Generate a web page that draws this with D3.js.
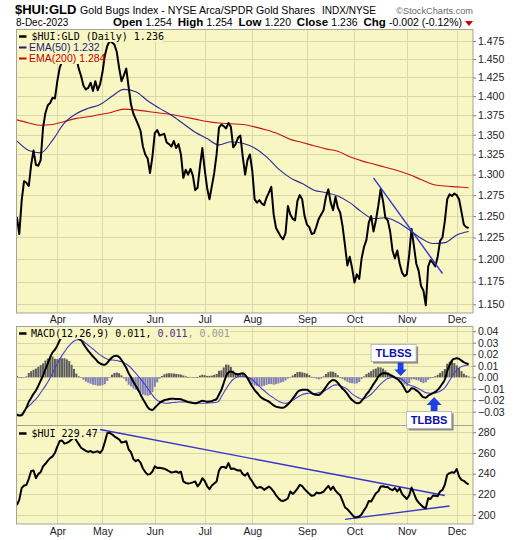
<!DOCTYPE html>
<html>
<head>
<meta charset="utf-8">
<script src="https://cdn.jsdelivr.net/npm/d3@7"></script>
<style>
  body { margin: 0; background: #ffffff; }
  svg { display: block; }
</style>
</head>
<body>
<svg id="chart" width="520" height="540"></svg>
<script>
// ---- data: one entry per trading session, 9-Mar-2023 .. 8-Dec-2023 ----
const monthLabels = ["Apr", "May", "Jun", "Jul", "Aug", "Sep", "Oct", "Nov", "Dec"];
const monthStart = [17, 36, 58, 79, 99, 122, 142, 164, 185]; // session index of each month's first day

const ratioClose = [
  1.249,1.229,1.268,1.292,1.290,1.286,1.312,1.330,1.312,1.311,
  1.318,1.359,1.378,1.388,1.391,1.398,1.397,1.420,1.438,1.447,
  1.460,1.455,1.466,1.462,1.470,1.452,1.437,1.427,1.414,1.409,
  1.411,1.418,1.407,1.420,1.408,1.416,1.432,1.455,1.468,1.475,
  1.473,1.470,1.460,1.438,1.420,1.428,1.437,1.412,1.389,1.377,
  1.370,1.363,1.355,1.335,1.325,1.320,1.302,1.322,1.352,1.356,
  1.349,1.350,1.351,1.340,1.338,1.335,1.342,1.333,1.338,1.325,
  1.296,1.306,1.300,1.307,1.299,1.281,1.284,1.310,1.333,1.306,
  1.284,1.270,1.286,1.302,1.325,1.359,1.363,1.361,1.358,1.365,
  1.360,1.334,1.338,1.346,1.349,1.322,1.300,1.318,1.325,1.305,
  1.270,1.266,1.269,1.265,1.263,1.272,1.278,1.285,1.252,1.236,
  1.231,1.226,1.223,1.230,1.262,1.252,1.247,1.245,1.268,1.275,
  1.270,1.250,1.240,1.237,1.229,1.230,1.238,1.247,1.252,1.257,
  1.273,1.282,1.266,1.257,1.273,1.260,1.254,1.238,1.216,1.193,
  1.203,1.190,1.174,1.183,1.178,1.201,1.214,1.222,1.242,1.250,
  1.232,1.245,1.262,1.282,1.268,1.248,1.245,1.232,1.210,1.201,
  1.210,1.195,1.185,1.181,1.183,1.205,1.235,1.215,1.195,1.187,
  1.170,1.165,1.149,1.192,1.199,1.196,1.192,1.203,1.221,1.225,
  1.244,1.270,1.276,1.274,1.277,1.275,1.270,1.255,1.240,1.237,
  1.236
];

// moving averages, sampled every 5 sessions
const emaStep = 5;
const ema50 = [
  1.342,1.330,1.327,1.343,1.365,1.377,1.384,1.389,1.400,1.409,
  1.406,1.394,1.384,1.375,1.364,1.353,1.345,1.337,1.341,1.339,
  1.333,1.322,1.307,1.296,1.289,1.281,1.278,1.274,1.266,1.255,
  1.247,1.248,1.243,1.234,1.224,1.218,1.219,1.228,1.232
];
const ema200 = [
  1.369,1.365,1.362,1.363,1.367,1.371,1.373,1.376,1.379,1.383,
  1.382,1.380,1.378,1.376,1.373,1.370,1.367,1.365,1.364,1.363,
  1.360,1.356,1.351,1.344,1.340,1.336,1.332,1.329,1.322,1.317,
  1.313,1.309,1.305,1.300,1.294,1.288,1.286,1.285,1.284
];

const macdLine = [
  -0.0323,-0.0332,-0.0330,-0.0300,-0.0265,-0.0215,-0.0180,-0.0145,-0.0115,-0.0075,
  -0.0030,0.0015,0.0070,0.0120,0.0175,0.0215,0.0240,0.0275,0.0320,0.0355,
  0.0385,0.0405,0.0415,0.0405,0.0385,0.0355,0.0335,0.0320,0.0290,0.0258,
  0.0230,0.0205,0.0180,0.0160,0.0135,0.0120,0.0110,0.0108,0.0125,0.0150,
  0.0172,0.0185,0.0186,0.0175,0.0150,0.0115,0.0080,0.0035,0.0000,-0.0040,
  -0.0075,-0.0110,-0.0150,-0.0190,-0.0225,-0.0260,-0.0280,-0.0285,-0.0265,-0.0245,
  -0.0225,-0.0210,-0.0200,-0.0195,-0.0190,-0.0188,-0.0188,-0.0189,-0.0190,-0.0192,
  -0.0200,-0.0208,-0.0215,-0.0220,-0.0224,-0.0227,-0.0222,-0.0212,-0.0205,-0.0208,
  -0.0214,-0.0212,-0.0208,-0.0200,-0.0190,-0.0150,-0.0110,-0.0050,0.0010,0.0040,
  0.0049,0.0040,0.0030,0.0026,0.0030,0.0035,0.0020,-0.0008,-0.0045,-0.0080,
  -0.0112,-0.0135,-0.0160,-0.0180,-0.0192,-0.0202,-0.0212,-0.0228,-0.0245,-0.0256,
  -0.0262,-0.0265,-0.0265,-0.0255,-0.0235,-0.0215,-0.0185,-0.0160,-0.0130,-0.0115,
  -0.0110,-0.0108,-0.0110,-0.0122,-0.0138,-0.0148,-0.0153,-0.0154,-0.0140,-0.0115,
  -0.0085,-0.0055,-0.0035,-0.0025,-0.0030,-0.0050,-0.0075,-0.0100,-0.0120,-0.0145,
  -0.0175,-0.0198,-0.0215,-0.0226,-0.0225,-0.0205,-0.0180,-0.0150,-0.0125,-0.0095,
  -0.0060,-0.0030,0.0005,0.0025,0.0035,0.0035,0.0030,0.0020,0.0010,-0.0003,
  -0.0015,-0.0035,-0.0060,-0.0095,-0.0130,-0.0120,-0.0095,-0.0100,-0.0115,-0.0130,
  -0.0155,-0.0175,-0.0178,-0.0160,-0.0150,-0.0138,-0.0128,-0.0110,-0.0085,-0.0055,
  -0.0020,0.0055,0.0105,0.0145,0.0160,0.0165,0.0160,0.0145,0.0130,0.0120,
  0.0113
];

const signalLine = [
  -0.0334,-0.0333,-0.0322,-0.0298,-0.0272,-0.0252,-0.0232,-0.0210,-0.0190,-0.0165,
  -0.0135,-0.0105,-0.0075,-0.0042,-0.0005,0.0035,0.0080,0.0117,0.0155,0.0190,
  0.0220,0.0250,0.0275,0.0297,0.0313,0.0323,0.0327,0.0322,0.0312,0.0295,
  0.0278,0.0262,0.0245,0.0228,0.0210,0.0194,0.0180,0.0168,0.0158,0.0152,
  0.0150,0.0148,0.0145,0.0140,0.0134,0.0126,0.0115,0.0100,0.0080,0.0058,
  0.0035,0.0010,-0.0015,-0.0040,-0.0068,-0.0098,-0.0125,-0.0155,-0.0182,-0.0200,
  -0.0212,-0.0220,-0.0225,-0.0227,-0.0225,-0.0222,-0.0220,-0.0218,-0.0216,-0.0215,
  -0.0215,-0.0216,-0.0217,-0.0218,-0.0220,-0.0222,-0.0224,-0.0226,-0.0227,-0.0226,
  -0.0225,-0.0224,-0.0222,-0.0220,-0.0218,-0.0205,-0.0170,-0.0135,-0.0100,-0.0068,
  -0.0040,-0.0018,-0.0005,0.0004,0.0006,0.0006,0.0005,0.0000,-0.0008,-0.0020,
  -0.0040,-0.0060,-0.0080,-0.0100,-0.0118,-0.0135,-0.0152,-0.0168,-0.0180,-0.0195,
  -0.0208,-0.0218,-0.0225,-0.0227,-0.0222,-0.0212,-0.0200,-0.0188,-0.0175,-0.0162,
  -0.0152,-0.0145,-0.0141,-0.0140,-0.0141,-0.0142,-0.0140,-0.0135,-0.0128,-0.0122,
  -0.0112,-0.0098,-0.0085,-0.0073,-0.0067,-0.0068,-0.0075,-0.0083,-0.0092,-0.0105,
  -0.0125,-0.0145,-0.0160,-0.0172,-0.0183,-0.0189,-0.0187,-0.0178,-0.0165,-0.0148,
  -0.0128,-0.0105,-0.0082,-0.0060,-0.0040,-0.0024,-0.0012,-0.0004,0.0000,0.0000,
  -0.0003,-0.0010,-0.0020,-0.0035,-0.0054,-0.0068,-0.0075,-0.0082,-0.0090,-0.0100,
  -0.0112,-0.0124,-0.0134,-0.0138,-0.0140,-0.0139,-0.0137,-0.0131,-0.0122,-0.0109,
  -0.0091,-0.0062,-0.0029,0.0006,0.0037,0.0062,0.0080,0.0092,0.0100,0.0104,
  0.0106
];

const huiClose = [
  209.7,214.6,226.0,228.5,229.0,235.0,242.5,243.0,235.6,239.5,
  241.5,247.0,249.5,252.5,255.0,256.7,260.0,266.0,271.5,272.0,
  269.0,269.7,271.0,272.9,276.0,272.0,268.5,265.0,263.5,262.0,
  261.0,261.8,260.5,261.0,261.6,260.0,263.0,270.5,279.0,279.4,
  278.0,276.0,274.6,273.0,270.0,270.5,271.3,263.5,260.5,254.0,
  252.0,253.4,250.5,245.0,241.5,239.0,239.5,242.0,247.0,245.5,
  245.6,245.2,244.8,243.7,242.3,241.0,241.5,242.1,240.8,241.8,
  232.4,231.0,230.5,230.8,231.5,232.4,227.6,230.5,235.5,233.0,
  228.0,225.0,228.5,230.5,232.4,243.0,246.5,246.5,245.4,250.2,
  244.5,245.0,244.0,243.0,243.3,239.5,238.0,240.5,235.6,232.4,
  228.5,226.0,227.0,226.5,224.3,226.0,227.5,225.5,222.7,219.0,
  216.2,214.0,213.6,214.5,216.2,222.7,220.4,222.5,225.5,229.2,
  228.0,225.0,222.7,220.4,218.5,219.0,221.7,221.0,221.5,222.7,
  225.5,228.2,224.3,227.5,223.5,221.0,219.0,213.5,207.5,205.6,
  203.0,200.3,197.8,197.8,198.5,200.7,204.5,208.0,213.5,213.0,
  217.0,221.0,222.7,227.5,227.8,227.0,227.0,225.0,224.0,226.0,
  222.7,226.0,220.5,217.8,215.5,219.0,226.5,221.0,215.0,212.0,
  209.7,207.5,206.5,216.2,215.5,218.8,218.5,218.1,222.7,224.3,
  229.2,238.9,240.5,241.3,240.8,244.4,237.2,234.0,233.0,231.0,
  229.47
];

// hand-drawn trend lines: [session index, value]
const ratioTrend = [[150, 1.296], [179, 1.184]];
const huiTrendHigh = [[35, 282.6], [180, 218.8]];
const huiTrendLow = [[138, 195.8], [182, 208.7]];

// axis ticks
const ratioTicks = [1.150,1.175,1.200,1.225,1.250,1.275,1.300,1.325,1.350,1.375,1.400,1.425,1.450,1.475];
const macdTicks = [-0.03,-0.02,-0.01,0.00,0.01,0.02,0.03,0.04];
const huiTicks = [200,220,240,260,280];

// ---- drawing ----
const SANS = "'Liberation Sans', Arial, sans-serif";
const MONO = "'DejaVu Sans Mono', monospace";
const BG = "#f8f6c2";
const GRID = "#d9d7ac";
const BORDER = "#a5a595";

const svg = d3.select("#chart");
const X0 = 16, X1 = 473;
const x = d3.scaleLinear().domain([0, 190]).range([16.9, 468.6]);

const boxes = {
  ratio: {top: 29.5, bottom: 313},
  macd: {top: 326.5, bottom: 425.5},
  hui: {top: 425.5, bottom: 524}
};
const yR = d3.scaleLog().domain([1.1406, 1.4911]).range([boxes.ratio.bottom, boxes.ratio.top]);
const yM = d3.scaleLinear().domain([-0.042, 0.0441]).range([boxes.macd.bottom, boxes.macd.top]);
const yH = d3.scaleLinear().domain([191.3, 286.5]).range([boxes.hui.bottom, boxes.hui.top]);

const defs = svg.append("defs");

function panel(id, box, y, ticks, fmt) {
  const g = svg.append("g");
  g.append("rect")
    .attr("x", X0).attr("y", box.top)
    .attr("width", X1 - X0).attr("height", box.bottom - box.top)
    .attr("fill", BG);
  g.selectAll(null).data(ticks).join("line")
    .attr("x1", X0).attr("x2", X1)
    .attr("y1", d => Math.round(y(d)) + 0.5).attr("y2", d => Math.round(y(d)) + 0.5)
    .attr("stroke", GRID).attr("stroke-width", 1);
  g.selectAll(null).data(monthStart).join("line")
    .attr("x1", d => Math.round(x(d)) + 0.5).attr("x2", d => Math.round(x(d)) + 0.5)
    .attr("y1", box.top).attr("y2", box.bottom)
    .attr("stroke", GRID).attr("stroke-width", 1);
  defs.append("clipPath").attr("id", "clip-" + id)
    .append("rect").attr("x", X0).attr("y", box.top)
    .attr("width", X1 - X0).attr("height", box.bottom - box.top);
  const plot = g.append("g").attr("clip-path", `url(#clip-${id})`);

  const axis = svg.append("g")
    .attr("transform", `translate(${X1},0)`)
    .call(d3.axisRight(y).tickValues(ticks).tickFormat(fmt).tickSize(3).tickPadding(2));
  axis.select(".domain").remove();
  axis.selectAll("line").attr("stroke", "#777");
  axis.selectAll("text").attr("font-family", SANS).attr("font-size", 10.5).attr("fill", "#222");
  return {g, plot};
}

function frame(box) {
  svg.append("rect")
    .attr("x", X0 + 0.5).attr("y", box.top)
    .attr("width", X1 - X0 - 0.5).attr("height", box.bottom - box.top)
    .attr("fill", "none").attr("stroke", BORDER).attr("stroke-width", 1);
}

function monthAxis(yPos, labelY) {
  const a = svg.append("g")
    .attr("transform", `translate(0,${yPos})`)
    .call(d3.axisBottom(x).tickValues(monthStart).tickFormat((d, i) => monthLabels[i]).tickSize(0));
  a.select(".domain").remove();
  a.selectAll("text")
    .attr("y", labelY).attr("dy", 0)
    .attr("font-family", SANS).attr("font-size", 10.5).attr("fill", "#222");
}

// legend row with an opaque backing so the series passes behind it
function legendRow(g, xPos, baseline, w, parts, font, size, swatch) {
  g.append("rect").attr("x", X0 + 1).attr("y", baseline - 9)
    .attr("width", w).attr("height", 11).attr("fill", BG);
  g.append("line").attr("x1", 19).attr("x2", 26.5)
    .attr("y1", baseline - 3.5).attr("y2", baseline - 3.5)
    .attr("stroke", swatch.color).attr("stroke-width", swatch.width);
  const t = g.append("text").attr("x", xPos).attr("y", baseline)
    .attr("font-family", font).attr("font-size", size)
    .attr("xml:space", "preserve");
  parts.forEach(p => t.append("tspan").attr("fill", p[1]).text(p[0]));
}

// --- price ratio panel ---
const ratioPanel = panel("ratio", boxes.ratio, yR, ratioTicks, d3.format(".3f"));
const emaLine = d3.line().x((d, i) => x(i * emaStep)).y(d => yR(d)).curve(d3.curveMonotoneX);
ratioPanel.plot.append("path").datum(ema200).attr("d", emaLine)
  .attr("fill", "none").attr("stroke", "#c81414").attr("stroke-width", 1.1);
ratioPanel.plot.append("path").datum(ema50).attr("d", emaLine)
  .attr("fill", "none").attr("stroke", "#2a2a9a").attr("stroke-width", 1.1);
ratioPanel.plot.append("path").datum(ratioClose)
  .attr("d", d3.line().x((d, i) => x(i)).y(d => yR(d)))
  .attr("fill", "none").attr("stroke", "#000").attr("stroke-width", 2).attr("stroke-linejoin", "round");
ratioPanel.plot.append("path").datum(ratioTrend)
  .attr("d", d3.line().x(d => x(d[0])).y(d => yR(d[1])))
  .attr("stroke", "#3535d0").attr("stroke-width", 1.4);
legendRow(ratioPanel.g, 31.5, 40, 146, [["$HUI:GLD (Daily) 1.236", "#000"]], MONO, 10, {color: "#000", width: 2.5});
legendRow(ratioPanel.g, 29, 51, 80, [["EMA(50) 1.232", "#1c1c7c"]], SANS, 10.5, {color: "#1c1c7c", width: 2});
legendRow(ratioPanel.g, 29, 62, 84, [["EMA(200) 1.284", "#c80000"]], SANS, 10.5, {color: "#c80000", width: 2});
frame(boxes.ratio);
monthAxis(boxes.ratio.bottom, 9.8);

// --- MACD panel ---
const macdPanel = panel("macd", boxes.macd, yM, macdTicks, d3.format(".2f"));
const hist = macdLine.map((m, i) => m - signalLine[i]);
macdPanel.plot.selectAll(null).data(hist).join("rect")
  .attr("x", (d, i) => x(i) - 1)
  .attr("width", 2)
  .attr("y", d => Math.min(yM(d), yM(0)))
  .attr("height", d => Math.max(0.6, Math.abs(yM(d) - yM(0))))
  .attr("fill", d => d >= 0 ? "#5c5c5c" : "#8080b4");
macdPanel.plot.append("path").datum(signalLine)
  .attr("d", d3.line().x((d, i) => x(i)).y(d => yM(d)).curve(d3.curveMonotoneX))
  .attr("fill", "none").attr("stroke", "#4a3fd0").attr("stroke-width", 1.1);
macdPanel.plot.append("path").datum(macdLine)
  .attr("d", d3.line().x((d, i) => x(i)).y(d => yM(d)).curve(d3.curveMonotoneX))
  .attr("fill", "none").attr("stroke", "#000").attr("stroke-width", 2).attr("stroke-linejoin", "round");
legendRow(macdPanel.g, 31, 337, 213,
  [["MACD(12,26,9) 0.011, ", "#000"], ["0.011", "#4b2c9c"], [", 0.001", "#9a9a9a"]],
  MONO, 10, {color: "#000", width: 2.5});
frame(boxes.macd);

// --- $HUI panel ---
const huiPanel = panel("hui", boxes.hui, yH, huiTicks, d3.format("d"));
const trend = d3.line().x(d => x(d[0])).y(d => yH(d[1]));
huiPanel.plot.append("path").datum(huiTrendHigh).attr("d", trend)
  .attr("stroke", "#3535d0").attr("stroke-width", 1.4);
huiPanel.plot.append("path").datum(huiTrendLow).attr("d", trend)
  .attr("stroke", "#3535d0").attr("stroke-width", 1.4);
huiPanel.plot.append("path").datum(huiClose)
  .attr("d", d3.line().x((d, i) => x(i)).y(d => yH(d)))
  .attr("fill", "none").attr("stroke", "#000").attr("stroke-width", 2).attr("stroke-linejoin", "round");
legendRow(huiPanel.g, 31.5, 437, 72, [["$HUI 229.47", "#000"]], MONO, 10, {color: "#000", width: 2.5});
frame(boxes.hui);
monthAxis(boxes.hui.bottom, 10.5);

// --- signal callouts on the MACD ---
function callout(label, idx, value, dir) {
  const tx = x(idx), ty = yM(value);
  const g = svg.append("g");
  const w = 45, h = 17;
  let bx, by, arrow;
  if (dir === "down") {
    bx = tx - 29.5; by = ty - 31.5;
    const s = by + h + 1;
    arrow = [[tx - 2.9, s], [tx + 2.9, s], [tx + 2.9, s + 7], [tx + 6.2, s + 7], [tx, s + 13.5], [tx - 6.2, s + 7], [tx - 2.9, s + 7]];
  } else {
    bx = tx - 27.5; by = ty + 14.5;
    const e = by - 0.5;
    arrow = [[tx, ty], [tx + 7.5, ty + 8], [tx + 3.4, ty + 8], [tx + 3.4, e], [tx - 3.4, e], [tx - 3.4, ty + 8], [tx - 7.5, ty + 8]];
  }
  g.append("rect").attr("x", bx + 2).attr("y", by + 2).attr("width", w).attr("height", h).attr("fill", "#8c8c8c");
  g.append("rect").attr("x", bx).attr("y", by).attr("width", w).attr("height", h)
    .attr("fill", "#ffffff").attr("stroke", "#b0b0b0").attr("stroke-width", 0.8);
  g.append("text").attr("x", bx + w / 2).attr("y", by + 12.3)
    .attr("text-anchor", "middle").attr("font-family", SANS).attr("font-weight", "bold")
    .attr("font-size", 11).attr("fill", "#0c0cb0").text(label);
  g.append("polygon").attr("points", arrow.map(p => p.join(",")).join(" ")).attr("fill", "#1e40e6");
}
callout("TLBSS", 161.4, 0.001, "down");
callout("TLBBS", 175.5, -0.0172, "up");

// --- header ---
const head = svg.append("g");
head.append("text").attr("x", 15).attr("y", 14)
  .attr("font-family", SANS).attr("font-weight", "bold").attr("font-size", 13).attr("fill", "#000")
  .text("$HUI:GLD");
head.append("text").attr("x", 80).attr("y", 13.5)
  .attr("font-family", SANS).attr("font-size", 10.6).attr("fill", "#000")
  .text("Gold Bugs Index - NYSE Arca/SPDR Gold Shares");
head.append("text").attr("x", 322).attr("y", 13.5)
  .attr("font-family", SANS).attr("font-size", 10).attr("fill", "#000")
  .text("INDX/NYSE");
head.append("text").attr("x", 473).attr("y", 13.5).attr("text-anchor", "end")
  .attr("font-family", SANS).attr("font-size", 9.2).attr("fill", "#6a6a6a")
  .text("©StockCharts.com");
head.append("text").attr("x", 16).attr("y", 25.5)
  .attr("font-family", SANS).attr("font-size", 10).attr("fill", "#000")
  .text("8-Dec-2023");
const quote = [["Open ", true], ["1.254  ", false], ["High ", true], ["1.254  ", false],
  ["Low ", true], ["1.220  ", false], ["Close ", true], ["1.236  ", false],
  ["Chg ", true], ["-0.002 (-0.12%)", false]];
const qt = head.append("text").attr("x", 462).attr("y", 25.5).attr("text-anchor", "end")
  .attr("font-family", SANS).attr("fill", "#000").attr("xml:space", "preserve");
quote.forEach(q => qt.append("tspan")
  .attr("font-weight", q[1] ? "bold" : "normal")
  .attr("font-size", q[1] ? 11.5 : 10.5)
  .text(q[0]));
head.append("polygon").attr("points", "465,21 473,21 469,26").attr("fill", "#c80000");
</script>
</body>
</html>
